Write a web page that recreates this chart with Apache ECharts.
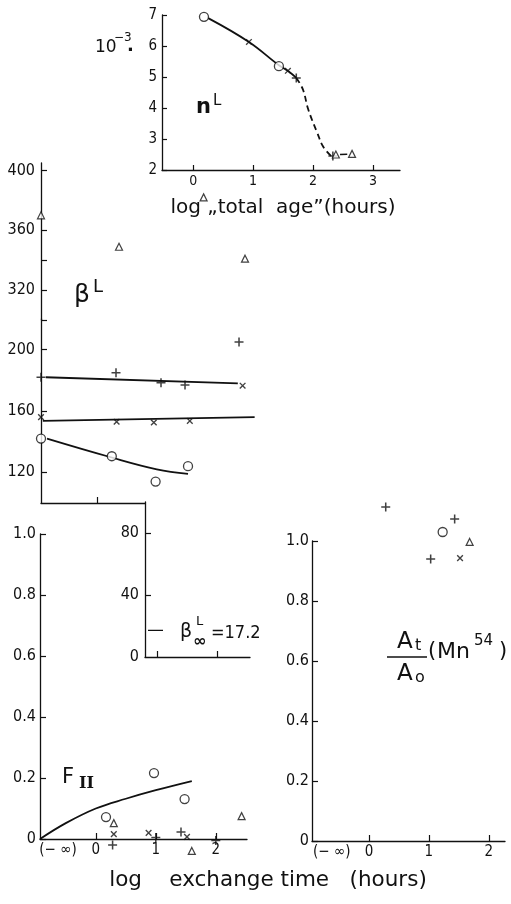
<!DOCTYPE html>
<html><head><meta charset="utf-8">
<script src="https://cdn.jsdelivr.net/npm/echarts@6/dist/echarts.min.js"></script>
<style>html,body{margin:0;padding:0;background:#fff}#c{width:511px;height:904px}</style>
</head><body><div id="c"></div>
<script>
// ---------- n^L panel (log total age) ----------
const nTicksX = [0, 1, 2, 3];
const nTicksY = [2, 3, 4, 5, 6, 7];
const nCircle = [[0.18, 6.94], [1.43, 5.35]];
const nCross = [[0.93, 6.13], [1.58, 5.2]];
const nPlus = [[1.72, 4.97], [2.33, 2.45]];
const nTriangle = [[2.38, 2.5], [2.65, 2.52]];
const nCurveSolid = [[0.25, 6.9], [0.93, 6.13], [1.43, 5.38], [1.6, 5.17], [1.72, 4.97]];
const nCurveDashed = [[1.72, 4.97], [1.83, 4.6], [1.92, 3.95], [2.07, 3.2], [2.17, 2.75], [2.3, 2.45]];
const nCurveTail = [[2.45, 2.5], [2.57, 2.51]];

// ---------- beta^L panel (log exchange time) ----------
const betaUpperLabels = [320, 360, 400];
const betaUpperTicks = [300, 320, 340, 360, 400];
const betaLowerLabels = [120, 160, 200];
const betaBottomTicks = [0];
const betaTriangle = [[-0.93, 370], [0.37, 349], [1.78, 382], [2.47, 341]];
const betaPlus = [[-0.93, 182], [0.32, 185], [1.07, 178.5], [1.47, 177], [2.37, 205]];
const betaCross = [[-0.93, 156], [0.33, 153], [0.95, 152.5], [1.55, 153.5], [2.43, 176.5]];
const betaCircle = [[-0.93, 142], [0.25, 130.5], [0.98, 114], [1.52, 124]];
const betaPlusFit = [[-0.85, 182], [2.35, 178]];
const betaCrossFit = [[-0.9, 153.5], [2.63, 156]];
const betaCircleFit = [[-0.83, 142], [0.22, 130], [1.0, 122], [1.52, 119]];
// inset (beta infinity)
const insetLabels = [0, 40, 80];
const insetTicksY = [40, 80];
const insetTicksX = [1, 2];
const betaInf = 17.2;
const betaInfMark = [[0.85, betaInf], [1.1, betaInf]];

// ---------- F_II panel ----------
const xLabelsLeft = [-0.63, 0, 1, 2];
const xTicks = [0, 1, 2];
const fracLabels = [0, 0.2, 0.4, 0.6, 0.8, 1.0];
const fCircle = [[0.17, 0.072], [0.97, 0.216], [1.48, 0.131]];
const fTriangle = [[0.3, 0.052], [1.6, -0.039], [2.43, 0.075]];
const fCross = [[0.3, 0.016], [0.88, 0.02], [1.52, 0.007]];
const fPlus = [[0.28, -0.02], [1.0, 0.005], [1.42, 0.023], [2.0, -0.005]];
const fCurve = [[-0.93, 0], [-0.5, 0.052], [0, 0.1], [0.5, 0.132], [1.0, 0.16], [1.6, 0.19]];

// ---------- A_t/A_0 panel ----------
const xLabelsRight = [-0.62, 0, 1, 2];
const aPlus = [[0.28, 1.113], [1.43, 1.073], [1.03, 0.94]];
const aCircle = [[1.23, 1.03]];
const aTriangle = [[1.68, 0.997]];
const aCross = [[1.52, 0.943]];

const INK = '#111';
const NUMFONT = '"Liberation Sans Narrow", "DejaVu Sans Condensed", sans-serif';
const TXTFONT = '"DejaVu Sans", sans-serif';
const PLUS = 'path://M4.15,0H5.85V10H4.15ZM0,4.15H10V5.85H0Z';

function axisBase(o) {
  return Object.assign({
    type: 'value', splitLine: { show: false },
    axisLine: { show: true, onZero: false, lineStyle: { color: INK, width: 1.3 } },
    axisTick: { show: true, inside: true, length: 5, lineStyle: { color: INK, width: 1.2 } },
    axisLabel: { show: true, color: INK, fontFamily: NUMFONT, fontSize: 16, hideOverlap: false }
  }, o);
}
function ticks(vals, len) {
  return { show: true, inside: true, length: len || 6, customValues: vals, lineStyle: { color: INK, width: 1.2 } };
}
function labels(vals, size, margin, fmt) {
  const l = { show: true, color: INK, fontFamily: NUMFONT, fontSize: size, margin: margin, customValues: vals, hideOverlap: false };
  if (fmt) l.formatter = fmt;
  return l;
}
function fmtFrac(v) { return v === 0 ? '0' : v.toFixed(1); }
function fmtX(v) { return v < -0.3 ? '(\u2212 \u221e)' : String(v); }

const grids = [
  { left: 162, top: 15, width: 238, height: 155 },   // 0 nL
  { left: 41, top: 163, width: 224, height: 157 },   // 1 beta upper
  { left: 41, top: 319, width: 224, height: 184 },   // 2 beta lower
  { left: 145, top: 502, width: 105, height: 155 },  // 3 inset
  { left: 40, top: 534, width: 207, height: 305 },   // 4 F
  { left: 312, top: 541, width: 193, height: 300 },  // 5 A
  { left: 41, top: 319, width: 104, height: 184 }    // 6 beta bottom axis frame
];

const xAxes = [
  axisBase({ gridIndex: 0, min: -0.52, max: 3.45, axisTick: ticks(nTicksX, 5), axisLabel: labels(nTicksX, 14, 4) }),
  axisBase({ gridIndex: 1, min: -0.93, max: 2.803, show: false }),
  axisBase({ gridIndex: 2, min: -0.93, max: 2.803, show: false }),
  axisBase({ gridIndex: 3, min: 0.8, max: 2.55, axisTick: ticks(insetTicksX), axisLabel: { show: false } }),
  axisBase({ gridIndex: 4, min: -0.93, max: 2.52, axisTick: ticks(xTicks), axisLabel: labels(xLabelsLeft, 15, 4, fmtX) }),
  axisBase({ gridIndex: 5, min: -0.95, max: 2.27, axisTick: ticks(xTicks), axisLabel: labels(xLabelsRight, 15, 4, fmtX) }),
  axisBase({ gridIndex: 6, min: -0.93, max: 0.8, axisTick: ticks(betaBottomTicks), axisLabel: { show: false } })
];

const yAxes = [
  axisBase({ gridIndex: 0, min: 2, max: 7, axisTick: ticks(nTicksY, 5), axisLabel: labels(nTicksY, 15, 5) }),
  axisBase({ gridIndex: 1, min: 300, max: 405, axisTick: ticks(betaUpperTicks), axisLabel: labels(betaUpperLabels, 16, 6) }),
  axisBase({ gridIndex: 2, min: 100, max: 220, axisTick: ticks(betaLowerLabels), axisLabel: labels(betaLowerLabels, 16, 6) }),
  axisBase({ gridIndex: 3, min: 0, max: 100, axisTick: ticks(insetTicksY), axisLabel: labels(insetLabels, 16, 6) }),
  axisBase({ gridIndex: 4, min: 0, max: 1, axisTick: ticks(fracLabels), axisLabel: labels(fracLabels, 16, 4, fmtFrac) }),
  axisBase({ gridIndex: 5, min: 0, max: 1, axisTick: ticks(fracLabels), axisLabel: labels(fracLabels, 16, 3, fmtFrac) }),
  axisBase({ gridIndex: 6, min: 100, max: 220, show: false })
];

function pts(data, kind, ax) {
  const s = { type: 'scatter', data: data, xAxisIndex: ax, yAxisIndex: ax, clip: false, silent: true, z: 5 };
  if (kind === 'o') { s.symbol = 'circle'; s.symbolSize = 9; s.itemStyle = { color: '#fff', borderColor: INK, borderWidth: 1.3 }; }
  if (kind === 't') { s.symbol = 'triangle'; s.symbolSize = 7; s.itemStyle = { color: '#fff', borderColor: INK, borderWidth: 1.2 }; }
  if (kind === '+') { s.symbol = PLUS; s.symbolSize = 9; s.itemStyle = { color: INK }; }
  if (kind === 'x') { s.symbol = PLUS; s.symbolSize = 8; s.symbolRotate = 45; s.itemStyle = { color: INK }; }
  return s;
}
function curve(data, ax, opt) {
  opt = opt || {};
  return { type: 'line', data: data, xAxisIndex: ax, yAxisIndex: ax, clip: false, silent: true,
    showSymbol: false, symbol: 'none', smooth: opt.smooth || false, z: 3,
    lineStyle: { color: INK, width: opt.width || 1.8, type: opt.type || 'solid' } };
}

const series = [
  curve(nCurveSolid, 0, { smooth: 0.4 }),
  curve(nCurveDashed, 0, { smooth: 0.4, type: [6, 4] }),
  curve(nCurveTail, 0, { width: 1.5 }),
  pts(nCircle, 'o', 0), pts(nCross, 'x', 0), pts(nPlus, '+', 0), pts(nTriangle, 't', 0),

  pts(betaTriangle, 't', 1),
  curve(betaPlusFit, 2), curve(betaCrossFit, 2), curve(betaCircleFit, 2, { smooth: 0.4 }),
  pts(betaPlus, '+', 2), pts(betaCross, 'x', 2), pts(betaCircle, 'o', 2),

  curve(betaInfMark, 3, { width: 1.2 }),

  curve(fCurve, 4, { smooth: 0.4 }),
  pts(fCircle, 'o', 4), pts(fTriangle, 't', 4), pts(fCross, 'x', 4), pts(fPlus, '+', 4),

  pts(aPlus, '+', 5), pts(aCircle, 'o', 5), pts(aTriangle, 't', 5), pts(aCross, 'x', 5)
];

function txt(text, x, y, size, o) {
  o = o || {};
  return { type: 'text', x: x, y: y, z: 10, silent: true,
    style: { text: text, fill: INK, fontSize: size, fontFamily: o.family || TXTFONT, fontWeight: o.weight || 'normal',
      align: o.align || 'left', verticalAlign: 'middle', textAlign: o.align || 'left', textVerticalAlign: 'middle' } };
}

const graphics = [
  // n^L panel
  txt('10', 95, 48, 17),
  txt('\u22123', 114, 38, 12),
  txt('.', 127, 46, 18, { weight: 'bold' }),
  txt('n', 196, 108, 21, { weight: 'bold' }),
  txt('L', 213, 101, 15),
  txt('log \u201etotal  age\u201d(hours)', 283, 208, 20, { align: 'center' }),
  // beta^L
  txt('\u03b2', 74, 295, 25),
  txt('L', 93, 287, 18),
  // beta infinity
  txt('\u03b2', 180, 632, 19),
  txt('L', 196, 622, 13),
  txt('\u221e', 193, 642, 16, { weight: 'bold' }),
  txt('=17.2', 211, 633, 18, { family: NUMFONT }),
  // F_II
  txt('F', 62, 778, 21),
  txt('II', 79, 784, 16, { family: '"DejaVu Serif", serif', weight: 'bold' }),
  // A_t / A_0
  txt('A', 397, 642, 23),
  txt('t', 415, 646, 16),
  { type: 'line', z: 10, silent: true, shape: { x1: 387, y1: 657, x2: 427, y2: 657 }, style: { stroke: INK, lineWidth: 1.4 } },
  txt('A', 397, 674, 23),
  txt('o', 415, 678, 16),
  txt('(', 428, 652, 21),
  txt('Mn', 437, 652, 22),
  txt('54', 474, 641, 15),
  txt(')', 499, 652, 21),
  // bottom title
  txt('log    exchange time   (hours)', 268, 880, 21.5, { align: 'center' })
];

const chart = echarts.init(document.getElementById('c'), null, { renderer: 'canvas' });
chart.setOption({
  backgroundColor: '#fff',
  animation: false,
  grid: grids,
  xAxis: xAxes,
  yAxis: yAxes,
  series: series,
  graphic: graphics
});
</script>
</body></html>
